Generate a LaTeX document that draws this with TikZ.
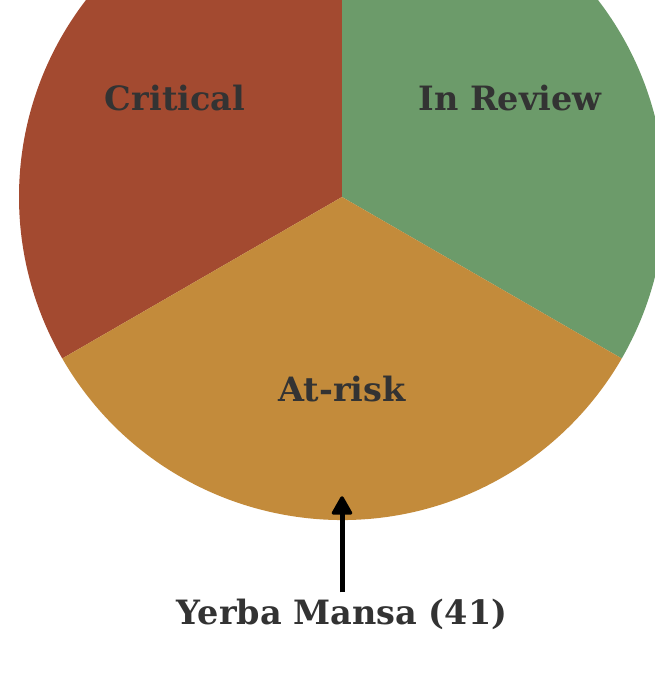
\documentclass[tikz,border=0pt]{standalone}
\usepackage{fontspec}
\setmainfont{DejaVu Serif}
\usetikzlibrary{arrows.meta}
\definecolor{crit}{HTML}{A34A30}
\definecolor{rev}{HTML}{6C9B6A}
\definecolor{risk}{HTML}{C38B3B}
\definecolor{txt}{HTML}{333333}
\begin{document}
\begin{tikzpicture}[x=1pt,y=1pt,
  lbl/.style={font=\fontsize{33.5}{40}\selectfont\bfseries, text=txt, inner sep=0pt},
  conn/.style={line width=5pt, black}]
\useasboundingbox (0,0) rectangle (655,682);
\begin{scope}
\clip (0,0) rectangle (655,682);
\coordinate (c) at (342,485);
\fill[crit] (c) -- ++(90:323pt) arc[start angle=90, end angle=210, radius=323pt] -- cycle;
\fill[rev] (c) -- ++(90:323pt) arc[start angle=90, end angle=-30, radius=323pt] -- cycle;
\fill[risk] (c) -- ++(210:323pt) arc[start angle=210, end angle=330, radius=323pt] -- cycle;
\end{scope}
\node[lbl] (crit) at (175,584) {Critical};
\node[lbl] (rev) at (510,584) {In Review};
\node[lbl] (risk) at (342,293) {At-risk};
\node[lbl] (yerba) at (342,68) {Yerba Mansa (41)};
\coordinate (tip) at (342,184);
\coordinate (base) at (342,172);
\draw[conn] (yerba.north) ++(0,6) -- (base);
\filldraw[black, line width=3.5pt, line join=round] (tip) -- ++(-8.5,-15) -- ++(17,0) -- cycle;
\end{tikzpicture}
\end{document}
